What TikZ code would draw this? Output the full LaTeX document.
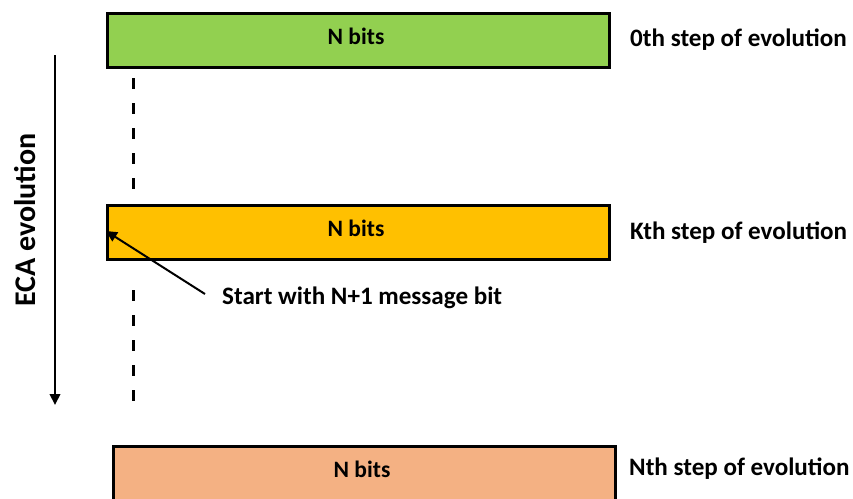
\documentclass[tikz,border=0pt]{standalone}
\usepackage{fontspec}
\setmainfont{Carlito}
\usetikzlibrary{arrows.meta,positioning}
\definecolor{stepgreen}{HTML}{92D050}
\definecolor{stepamber}{HTML}{FFC000}
\definecolor{stepsalmon}{HTML}{F4B183}
\tikzset{
  bitbox/.style={draw=black, line width=2.5pt, minimum width=502pt, minimum height=54pt,
    inner sep=0pt, anchor=north west},
  bitstext/.style={inner sep=0pt, font=\bfseries\fontsize{23.5}{28}\selectfont},
  steplabel/.style={anchor=west, inner sep=0pt, font=\bfseries\fontsize{25.1}{30}\selectfont},
  trace/.style={line width=3pt, dash pattern=on 11pt off 14pt},
  pointer/.style={line width=2pt, -{Triangle[length=11pt,width=10.5pt]}}
}
\begin{document}
\begin{tikzpicture}[x=1pt,y=-1pt]
  \useasboundingbox (0,0) rectangle (853,498);
  \clip (0,0) rectangle (853,498);

  % the three rows of bits
  \node[bitbox, fill=stepgreen]  (row0) at (106,12)  {};
  \node[bitstext] (bits0) at (356,36) {N bits};
  \node[bitbox, fill=stepamber]  (rowK) at (106,204) {};
  \node[bitstext] (bitsK) at (356,228) {N bits};
  \node[bitbox, fill=stepsalmon] (rowN) at (112,445) {};
  \node[bitstext] (bitsN) at (362,469) {N bits};

  % step labels
  \node[steplabel] (lab0) at (630,40)  {0th step of evolution};
  \node[steplabel] (labK) at (630,233) {Kth step of evolution};
  \node[steplabel] (labN) at (629,469) {Nth step of evolution};

  % skipped steps
  \coordinate (d1a) at (133,78);
  \coordinate (d1b) at (133,192);
  \coordinate (d2a) at (133,290);
  \coordinate (d2b) at (133,404);
  \draw[trace] (d1a) -- (d1b);
  \draw[trace] (d2a) -- (d2b);

  % direction of evolution
  \coordinate (evA) at (55,55);
  \coordinate (evB) at (55,405);
  \draw[pointer] (evA) -- (evB);
  \node[rotate=90, inner sep=0pt, font=\bfseries\fontsize{30}{36}\selectfont] (eca) at (25,220) {ECA evolution};

  % message bit annotation
  \node[steplabel] (start) at (222,298) {Start with N+1 message bit};
  \coordinate (startTail) at (205,294);
  \draw[pointer] (startTail) -- (rowK.west |- 0,231);
\end{tikzpicture}
\end{document}
